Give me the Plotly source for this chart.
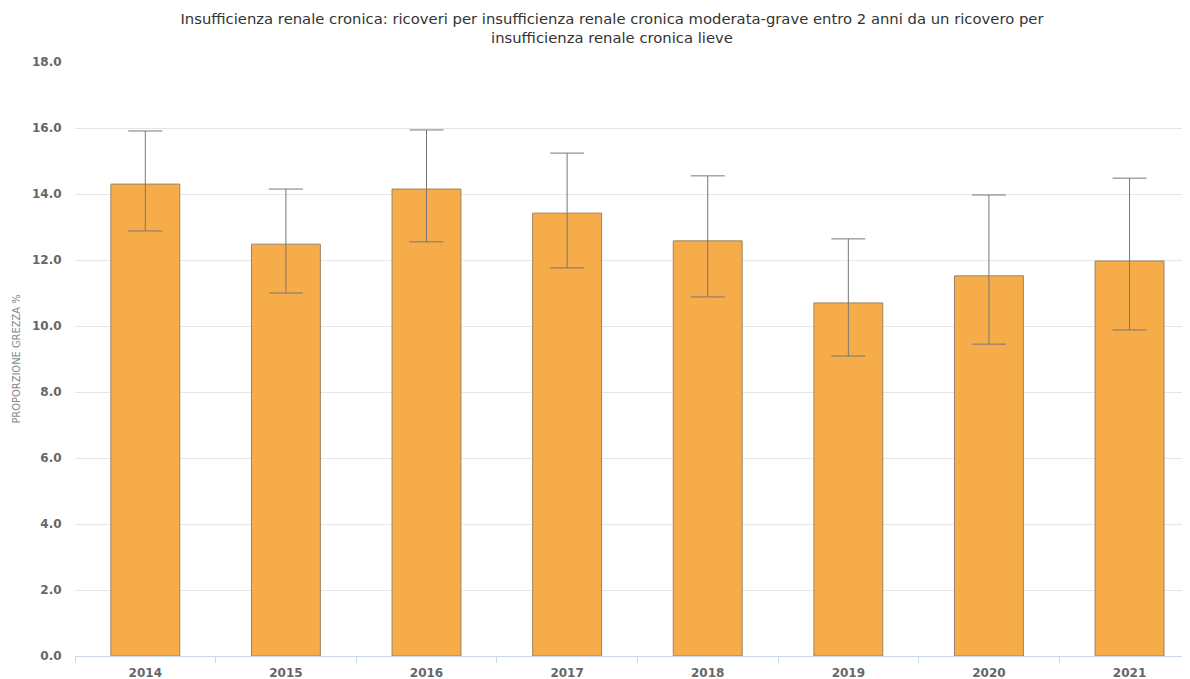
import plotly.graph_objects as go

years = ["2014", "2015", "2016", "2017", "2018", "2019", "2020", "2021"]
values = [14.30, 12.48, 14.15, 13.42, 12.58, 10.70, 11.52, 11.97]
upper = [15.91, 14.15, 15.94, 15.24, 14.55, 12.64, 13.97, 14.48]
lower = [12.88, 11.00, 12.55, 11.76, 10.88, 9.09, 9.45, 9.88]

err_plus = [u - v for u, v in zip(upper, values)]
err_minus = [v - l for v, l in zip(values, lower)]

fig = go.Figure(go.Bar(
    x=years, y=values, width=0.49,
    marker=dict(color="#F7AC4A", line=dict(color="#9a8466", width=1)),
    error_y=dict(type="data", symmetric=False, array=err_plus, arrayminus=err_minus,
                 color="#777777", thickness=1, width=17),
))

fig.update_layout(
    width=1182, height=671,
    margin=dict(l=66.5, r=0, t=54, b=23),
    paper_bgcolor="white", plot_bgcolor="white",
    title=dict(
        text="Insufficienza renale cronica: ricoveri per insufficienza renale cronica moderata-grave entro 2 anni da un ricovero per<br>insufficienza renale cronica lieve",
        x=0.511, xanchor="center", y=0.976, yanchor="middle",
        font=dict(family="DejaVu Sans", size=14.8, color="#333333"),
    ),
    xaxis=dict(
        type="category", range=[-0.5, 7.43],
        showline=True, linecolor="#ccd6eb", linewidth=1,
        ticks="outside", tickson="boundaries", ticklen=6, tickcolor="#ccd6eb",
        ticklabelstandoff=6,
        showgrid=False,
        tickfont=dict(family="DejaVu Sans", size=12, color="#666666", weight="bold"),
    ),
    yaxis=dict(
        range=[0, 18], dtick=2, tickformat=".1f",
        showgrid=True, gridcolor="#e6e6e6", gridwidth=1,
        zeroline=False, showline=False,
        ticks="outside", ticklen=10, tickcolor="white",
        tickfont=dict(family="DejaVu Sans", size=12, color="#666666", weight="bold"),
        title=dict(text="PROPORZIONE GREZZA %", standoff=9,
                   font=dict(family="Liberation Sans Narrow, DejaVu Sans Condensed", size=11, color="#888888")),
    ),
    showlegend=False,
    bargap=0.51,
)

fig.write_html("out.html")
